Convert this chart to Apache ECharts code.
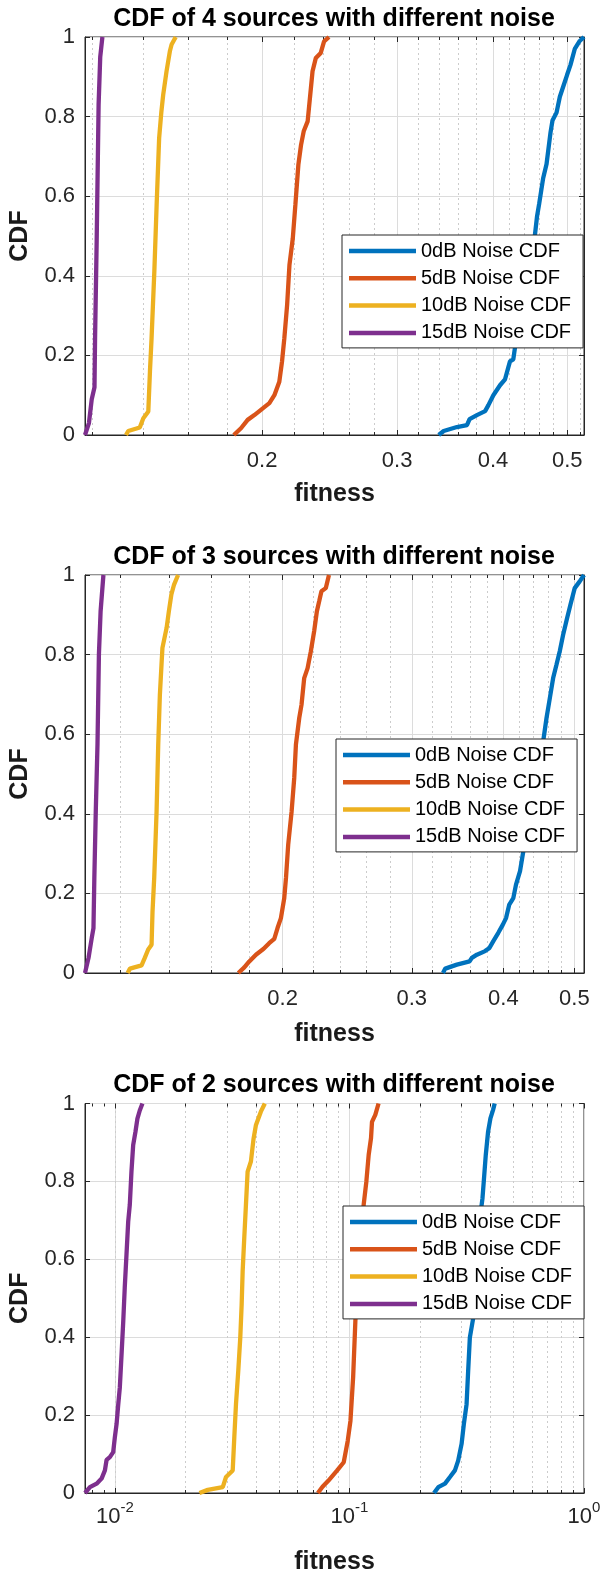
<!DOCTYPE html>
<html>
<head>
<meta charset="utf-8">
<script src="https://cdn.jsdelivr.net/npm/echarts@6/dist/echarts.min.js"></script>
<style>
  html, body { margin: 0; padding: 0; background: #fff; }
  #chart { width: 604px; height: 1576px; }
</style>
</head>
<body>
<div id="chart"></div>
<script>
// ---- data: [fitness, CDF] ----
var src4_0dB = [[0.3399,0],[0.3450,0.01],[0.3590,0.02],[0.3700,0.025],[0.3729,0.04],[0.3812,0.05],[0.3907,0.06],[0.3946,0.075],[0.4005,0.10],[0.4086,0.125],[0.4148,0.14],[0.4189,0.17],[0.4210,0.185],[0.4252,0.19],[0.4274,0.22],[0.4316,0.285],[0.4381,0.37],[0.4469,0.45],[0.4536,0.50],[0.4567,0.55],[0.4595,0.58],[0.4651,0.645],[0.4698,0.68],[0.4755,0.76],[0.4783,0.79],[0.4842,0.81],[0.4890,0.85],[0.4949,0.88],[0.4998,0.905],[0.5049,0.93],[0.5114,0.97],[0.5191,0.99],[0.5258,1]];
var src4_5dB = [[0.1837,0],[0.1877,0.017],[0.1915,0.038],[0.1954,0.05],[0.2004,0.067],[0.2044,0.08],[0.2075,0.10],[0.2106,0.134],[0.2123,0.184],[0.2138,0.243],[0.2156,0.327],[0.2171,0.427],[0.2193,0.494],[0.2210,0.578],[0.2230,0.679],[0.2248,0.729],[0.2266,0.763],[0.2293,0.788],[0.2311,0.855],[0.2327,0.914],[0.2350,0.947],[0.2385,0.96],[0.2409,0.989],[0.2445,1]];
var src4_10dB = [[0.1329,0],[0.1338,0.01],[0.1385,0.019],[0.1400,0.042],[0.1421,0.059],[0.1428,0.159],[0.1435,0.243],[0.1447,0.411],[0.1457,0.578],[0.1468,0.746],[0.1478,0.813],[0.1486,0.855],[0.1501,0.914],[0.1516,0.964],[0.1524,0.981],[0.1543,1]];
var src4_15dB = [[0.1175,0],[0.1189,0.03],[0.1199,0.09],[0.1209,0.12],[0.1211,0.24],[0.1217,0.49],[0.1224,0.83],[0.1230,0.95],[0.1238,1]];

var src3_0dB = [[0.3309,0],[0.3333,0.011],[0.3457,0.021],[0.3597,0.029],[0.3623,0.038],[0.3681,0.046],[0.3777,0.055],[0.3829,0.063],[0.3876,0.08],[0.3937,0.101],[0.3992,0.121],[0.4034,0.138],[0.4075,0.172],[0.4127,0.188],[0.4162,0.222],[0.4215,0.256],[0.4259,0.306],[0.4304,0.389],[0.4349,0.448],[0.4404,0.49],[0.4487,0.54],[0.4533,0.582],[0.4581,0.641],[0.4629,0.691],[0.4677,0.741],[0.4727,0.775],[0.4776,0.809],[0.4826,0.85],[0.4887,0.892],[0.4939,0.926],[0.5005,0.967],[0.5084,0.984],[0.5153,1]];
var src3_5dB = [[0.1740,0],[0.1773,0.014],[0.1801,0.029],[0.1839,0.046],[0.1884,0.061],[0.1917,0.075],[0.1948,0.086],[0.1968,0.113],[0.1989,0.138],[0.2010,0.188],[0.2021,0.239],[0.2035,0.322],[0.2057,0.406],[0.2074,0.49],[0.2085,0.574],[0.2107,0.641],[0.2122,0.674],[0.2140,0.741],[0.2163,0.766],[0.2185,0.808],[0.2208,0.859],[0.2227,0.909],[0.2243,0.934],[0.2259,0.959],[0.2290,0.967],[0.2313,1]];
var src3_10dB = [[0.1229,0],[0.1238,0.011],[0.1284,0.019],[0.1297,0.038],[0.1311,0.059],[0.1325,0.071],[0.1329,0.155],[0.1336,0.239],[0.1346,0.406],[0.1353,0.574],[0.1360,0.699],[0.1367,0.775],[0.1371,0.817],[0.1389,0.867],[0.1399,0.909],[0.1410,0.951],[0.1422,0.976],[0.1440,1]];
var src3_15dB = [[0.1075,0],[0.1087,0.038],[0.1098,0.088],[0.1104,0.113],[0.1107,0.239],[0.1112,0.406],[0.1118,0.574],[0.1123,0.80],[0.1129,0.909],[0.1139,1]];

var src2_0dB = [[0.2294,0],[0.2392,0.015],[0.2555,0.024],[0.2683,0.041],[0.2817,0.058],[0.2908,0.083],[0.3007,0.126],[0.3075,0.177],[0.3158,0.228],[0.3208,0.314],[0.3261,0.399],[0.3368,0.448],[0.3526,0.594],[0.3656,0.737],[0.3692,0.757],[0.3739,0.80],[0.3813,0.868],[0.3899,0.927],[0.3991,0.962],[0.4093,0.983],[0.4162,1]];
var src2_5dB = [[0.07336,0],[0.0768,0.016],[0.08143,0.032],[0.08867,0.058],[0.09458,0.079],[0.09835,0.134],[0.1010,0.185],[0.1037,0.297],[0.1060,0.441],[0.1103,0.599],[0.1150,0.74],[0.1181,0.80],[0.1208,0.868],[0.1236,0.911],[0.1248,0.953],[0.1289,0.971],[0.1331,1]];
var src2_10dB = [[0.02294,0],[0.02490,0.008],[0.02884,0.015],[0.02978,0.041],[0.03180,0.058],[0.03230,0.143],[0.03284,0.228],[0.03359,0.314],[0.03425,0.399],[0.03472,0.484],[0.03506,0.569],[0.03562,0.655],[0.03621,0.74],[0.03681,0.825],[0.03802,0.851],[0.03903,0.91],[0.03992,0.944],[0.04192,0.979],[0.04359,1]];
var src2_15dB = [[0.00746,0],[0.00783,0.015],[0.00836,0.024],[0.00878,0.037],[0.00907,0.058],[0.00922,0.085],[0.00952,0.092],[0.00984,0.105],[0.0100,0.143],[0.01017,0.177],[0.01034,0.228],[0.0105,0.271],[0.01068,0.356],[0.01086,0.441],[0.01102,0.527],[0.01121,0.612],[0.0114,0.697],[0.01158,0.74],[0.01177,0.825],[0.01197,0.893],[0.01224,0.927],[0.01248,0.961],[0.01277,0.982],[0.01311,1]];

var seriesNames = ['0dB Noise CDF', '5dB Noise CDF', '10dB Noise CDF', '15dB Noise CDF'];
var titles = ['CDF of 4 sources with different noise', 'CDF of 3 sources with different noise', 'CDF of 2 sources with different noise'];
var panelData = [
  [src4_0dB, src4_5dB, src4_10dB, src4_15dB],
  [src3_0dB, src3_5dB, src3_10dB, src3_15dB],
  [src2_0dB, src2_5dB, src2_10dB, src2_15dB]
];
var xLimits = [[0.1175, 0.5258], [0.1075, 0.5153], [0.00746, 1]];
var xMajor = [[0.2, 0.3, 0.4, 0.5], [0.2, 0.3, 0.4, 0.5], [0.01, 0.1, 1]];
var xMinor = [
  [0.12, 0.14, 0.16, 0.18, 0.22, 0.24, 0.26, 0.28, 0.32, 0.34, 0.36, 0.38, 0.42, 0.44, 0.46, 0.48, 0.52],
  [0.12, 0.14, 0.16, 0.18, 0.22, 0.24, 0.26, 0.28, 0.32, 0.34, 0.36, 0.38, 0.42, 0.44, 0.46, 0.48],
  [0.008, 0.009, 0.02, 0.03, 0.04, 0.05, 0.06, 0.07, 0.08, 0.09, 0.2, 0.3, 0.4, 0.5, 0.6, 0.7, 0.8, 0.9]
];

// ---- layout / style ----
var colors = ['#0072BD', '#D95319', '#EDB120', '#7E2F8E'];
var axisInk = '#262626';
var gridInk = '#dcdcdc';
var minorInk = '#cccccc';
var font = '"Liberation Sans", Arial, Helvetica, sans-serif';
var panels = [
  { top: 37, height: 398, titleTop: 6.5, nameGap: 47, legend: { left: 342, top: 235 } },
  { top: 575, height: 398, titleTop: 545, nameGap: 49, legend: { left: 336, top: 739 } },
  { top: 1103.5, height: 391, titleTop: 1073, nameGap: 57, legend: { left: 343, top: 1206 } }
];
var plotLeft = 84, plotWidth = 500;

function gridMarks(k) {
  var h = panels[k].height;
  var out = [];
  xMajor[k].forEach(function (v) {
    out.push({ xAxis: v, lineStyle: { color: gridInk, type: 'solid', width: 1 } });
  });
  xMinor[k].forEach(function (v) {
    out.push({ xAxis: v, lineStyle: { color: minorInk, type: [2, 3], width: 1 } });
  });
  function tick(v, px) {
    var d = px / h;
    var ls = { color: axisInk, type: 'solid', width: 1 };
    out.push([{ coord: [v, 0], lineStyle: ls }, { coord: [v, d] }]);
    out.push([{ coord: [v, 1], lineStyle: ls }, { coord: [v, 1 - d] }]);
  }
  xMajor[k].forEach(function (v) { tick(v, 5); });
  xMinor[k].forEach(function (v) { tick(v, 3); });
  return out;
}

function xLabelFormatter(k) {
  if (k === 2) {
    return function (v) { return '{b|10}{s|' + Math.round(Math.log10(v)) + '}'; };
  }
  return function (v) { return String(Math.round(v * 10) / 10); };
}

var option = {
  animation: false,
  backgroundColor: '#fff',
  textStyle: { fontFamily: font },
  title: [], grid: [], xAxis: [], yAxis: [], legend: [], series: []
};

panels.forEach(function (p, k) {
  option.title.push({
    text: titles[k], left: plotLeft + plotWidth / 2, top: p.titleTop, textAlign: 'center', padding: 0,
    textStyle: { fontSize: 25, fontWeight: 'bold', color: '#000', fontFamily: font }
  });
  option.grid.push({
    left: plotLeft, top: p.top, width: plotWidth, height: p.height,
    show: true, borderColor: axisInk, borderWidth: 1, backgroundColor: '#fff'
  });
  option.xAxis.push({
    type: 'log', logBase: 10, gridIndex: k, min: xLimits[k][0], max: xLimits[k][1],
    name: 'fitness', nameLocation: 'middle', nameGap: p.nameGap,
    nameTextStyle: { fontSize: 25, fontWeight: 'bold', color: '#1a1a1a', fontFamily: font },
    axisLine: { show: true, lineStyle: { color: axisInk } },
    axisTick: { show: false },
    splitLine: { show: false },
    minorTick: { show: false },
    minorSplitLine: { show: false },
    axisLabel: {
      customValues: xMajor[k], fontSize: 22, color: axisInk, margin: k === 2 ? 13 : 15,
      formatter: xLabelFormatter(k),
      rich: {
        b: { fontSize: 22, color: axisInk, lineHeight: 22, verticalAlign: 'bottom', fontFamily: font },
        s: { fontSize: 15, color: axisInk, lineHeight: 15, verticalAlign: 'bottom', padding: [0, 0, 13, 0], fontFamily: font }
      }
    }
  });
  option.yAxis.push({
    type: 'value', gridIndex: k, min: 0, max: 1, interval: 0.2, position: 'left',
    name: 'CDF', nameLocation: 'middle', nameGap: 52,
    nameTextStyle: { fontSize: 25, fontWeight: 'bold', color: '#1a1a1a', fontFamily: font },
    axisLine: { show: true, lineStyle: { color: axisInk } },
    axisTick: { show: true, inside: true, length: 5, lineStyle: { color: axisInk } },
    axisLabel: { fontSize: 22, color: axisInk, margin: 10 },
    splitLine: { show: true, lineStyle: { color: gridInk, width: 1 } }
  });
  option.yAxis.push({
    type: 'value', gridIndex: k, min: 0, max: 1, interval: 0.2, position: 'right',
    axisLine: { show: true, lineStyle: { color: axisInk } },
    axisTick: { show: true, inside: true, length: 5, lineStyle: { color: axisInk } },
    axisLabel: { show: false },
    splitLine: { show: false }
  });
  option.legend.push({
    orient: 'vertical', left: p.legend.left, top: p.legend.top, data: seriesNames,
    icon: 'rect', itemWidth: 67, itemHeight: 4.5, itemGap: 7.3,
    padding: [6, 12, 5, 7], backgroundColor: '#fff', borderColor: axisInk, borderWidth: 1, borderRadius: 0,
    selectedMode: false,
    textStyle: { fontSize: 20, color: '#000', fontFamily: font }
  });
  // grid lines and x tick marks drawn under the curves
  option.series.push({
    type: 'line', name: 'axes-' + k, xAxisIndex: k, yAxisIndex: 2 * k, data: [],
    silent: true,
    markLine: {
      silent: true, z: 1, symbol: ['none', 'none'], label: { show: false },
      emphasis: { disabled: true },
      lineStyle: { color: axisInk, width: 1, type: 'solid' },
      data: gridMarks(k)
    }
  });
  panelData[k].forEach(function (pts, i) {
    option.series.push({
      type: 'line', name: seriesNames[i], xAxisIndex: k, yAxisIndex: 2 * k,
      data: pts, showSymbol: false, symbol: 'none', color: colors[i],
      lineStyle: { width: 4.3, color: colors[i] },
      emphasis: { disabled: true }
    });
  });
});

var chart = echarts.init(document.getElementById('chart'), null, { renderer: 'canvas' });
chart.setOption(option);
window.addEventListener('resize', function () { chart.resize(); });
</script>
</body>
</html>
